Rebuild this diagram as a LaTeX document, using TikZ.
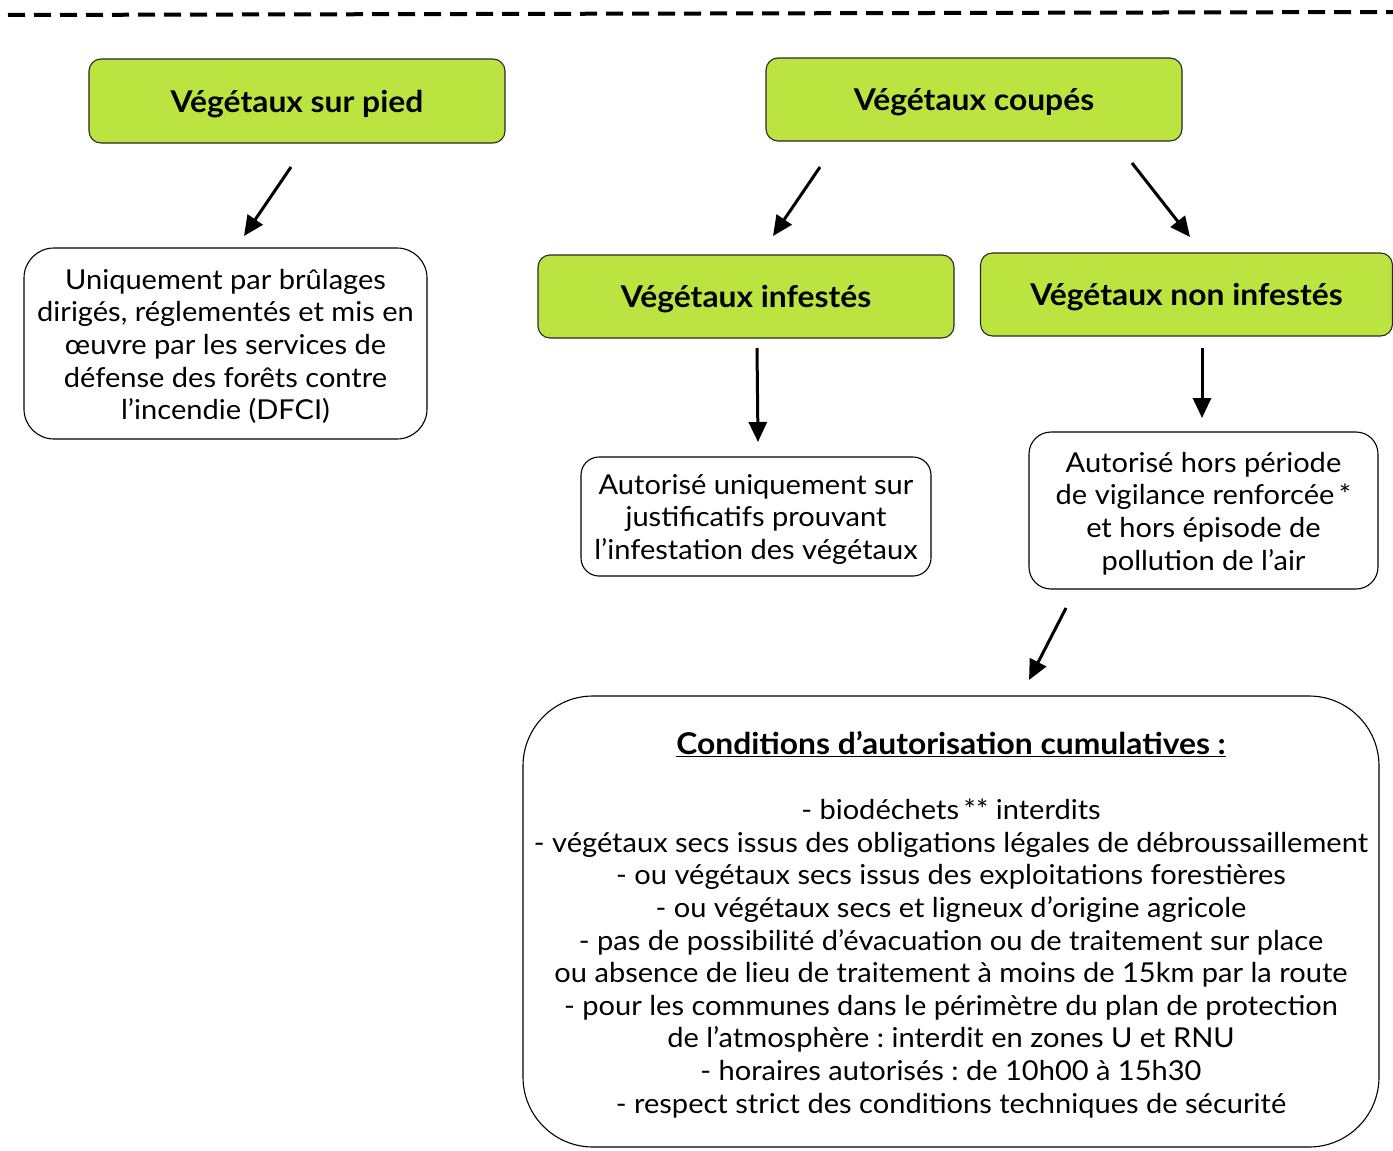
\documentclass[tikz,border=0pt]{standalone}
\usepackage{fontspec}
\setmainfont{Lato}[FakeStretch=1.06]
\usetikzlibrary{arrows.meta}
\definecolor{vgreen}{RGB}{188,228,64}
\definecolor{vborder}{RGB}{40,40,40}
\newcommand{\shiftdown}[1]{\raisebox{-3pt}[\height][\depth]{#1}}
\newcommand{\sdpar}[2]{\raisebox{-3pt}[\height][\depth]{\parbox{#1}{\centering #2}}}
\tikzset{
  greenbox/.style={draw=vborder, line width=1.1pt, fill=vgreen, rounded corners=12pt,
    inner sep=0pt, align=center, font=\fontsize{30}{34}\selectfont\bfseries},
  whitebox/.style={draw=black, line width=1.1pt, fill=white, inner sep=0pt,
    font=\fontsize{27.4}{32.6}\selectfont},
  arr/.style={line width=3pt, -{Triangle[length=20pt,width=18pt]}},
}
\begin{document}
\frenchspacing
\begin{tikzpicture}[x=1pt,y=-1pt]
\useasboundingbox (0,0) rectangle (1393,1151);
% top dashed separator
\coordinate (dl) at (8,15);
\coordinate (dr) at (1393,12);
\draw[line width=4pt, dash pattern=on 17pt off 9pt] (dl) -- (dr);

% green headings
\node[greenbox, minimum width=416pt, minimum height=84pt] (pied) at (297,101) {\shiftdown{Végétaux sur pied}};
\node[greenbox, minimum width=416pt, minimum height=83pt] (coupes) at (974,99.5) {\shiftdown{Végétaux coupés}};
\node[greenbox, minimum width=416pt, minimum height=83pt] (inf) at (746,296.5) {\shiftdown{Végétaux infestés}};
\node[greenbox, minimum width=412pt, minimum height=83pt] (noninf) at (1186.5,294.5) {\shiftdown{Végétaux non infestés}};

% white boxes
\node[whitebox, rounded corners=30pt, minimum width=403pt, minimum height=191pt] (dfci) at (225.5,343.5)
  {\sdpar{403pt}{Uniquement par brûlages\\dirigés, réglementés et mis en\\œuvre par les services de\\défense des forêts contre\\l’incendie (DFCI)}};
\node[whitebox, rounded corners=18pt, minimum width=350pt, minimum height=119pt] (just) at (756,516.5)
  {\sdpar{350pt}{Autorisé uniquement sur\\justificatifs prouvant\\l’infestation des végétaux}};
\node[whitebox, rounded corners=22pt, minimum width=349pt, minimum height=157pt] (hors) at (1203.5,510.5)
  {\sdpar{349pt}{Autorisé hors période\\de vigilance renforcée\,*\\et hors épisode de\\pollution de l’air}};
\node[whitebox, rounded corners=70pt, minimum width=856pt, minimum height=451pt] (cond) at (951,921.5)
  {\sdpar{856pt}{{\fontsize{30}{32.6}\selectfont\bfseries\underline{Conditions d’autorisation cumulatives :}}\\[32.6pt]
   - biodéchets\,** interdits\\
   - végétaux secs issus des obligations légales de débroussaillement\\
   - ou végétaux secs issus des exploitations forestières\\
   - ou végétaux secs et ligneux d’origine agricole\\
   - pas de possibilité d’évacuation ou de traitement sur place\\
   ou absence de lieu de traitement à moins de 15km par la route\\
   - pour les communes dans le périmètre du plan de protection\\
   de l’atmosphère : interdit en zones U et RNU\\
   - horaires autorisés : de 10h00 à 15h30\\
   - respect strict des conditions techniques de sécurité}};

% arrow end points
\coordinate (a1s) at (291,167); \coordinate (a1e) at (244,236);
\coordinate (a2s) at (820,167); \coordinate (a2e) at (773,236);
\coordinate (a3s) at (1132,163); \coordinate (a3e) at (1190,237);
\coordinate (a4s) at (757,348); \coordinate (a4e) at (758,442);
\coordinate (a5s) at (1202,348); \coordinate (a5e) at (1202,418);
\coordinate (a6s) at (1066,608); \coordinate (a6e) at (1029,680);

\draw[arr] (a1s) -- (a1e);
\draw[arr] (a2s) -- (a2e);
\draw[arr] (a3s) -- (a3e);
\draw[arr] (a4s) -- (a4e);
\draw[arr] (a5s) -- (a5e);
\draw[arr] (a6s) -- (a6e);
\end{tikzpicture}
\end{document}
